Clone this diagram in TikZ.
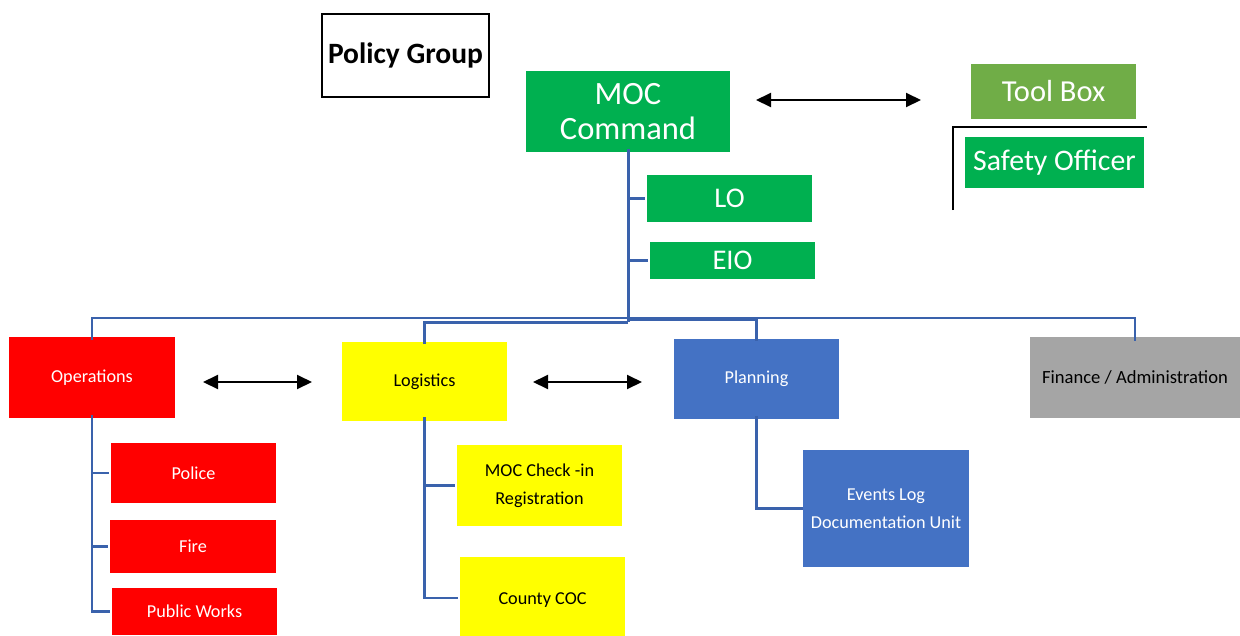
\documentclass[tikz,border=0pt]{standalone}
\usepackage{fontspec}
\setmainfont{Carlito}
\usetikzlibrary{arrows.meta}
\definecolor{cgreen}{HTML}{00B050}
\definecolor{ctool}{HTML}{70AD47}
\definecolor{cblue}{HTML}{4472C4}
\definecolor{cgray}{HTML}{A5A5A5}
\definecolor{cred}{HTML}{FF0000}
\definecolor{cyellow}{HTML}{FFFF00}
\definecolor{cline}{HTML}{3A62AC}
\tikzset{
  box/.style={inner sep=0pt, align=center, draw=none},
  greenbox/.style={box, fill=cgreen, text=white},
  redbox/.style={box, fill=cred, text=white, font=\fontsize{18.2}{28}\selectfont},
  yellowbox/.style={box, fill=cyellow, text=black, font=\fontsize{18.2}{28}\selectfont},
  bluebox/.style={box, fill=cblue, text=white, font=\fontsize{18.2}{28}\selectfont},
  graybox/.style={box, fill=cgray, text=black, font=\fontsize{18.6}{28}\selectfont},
  conn/.style={draw=cline, line width=3pt},
  thinconn/.style={draw=cline, line width=2.6pt},
  biarrow/.style={draw=black, line width=2pt, {Triangle[length=15pt,width=14pt]}-{Triangle[length=15pt,width=14pt]}},
}
\begin{document}
\begin{tikzpicture}[x=1pt,y=-1pt]
\useasboundingbox (0,0) rectangle (1240,635);

% top level
\node[box, draw=black, line width=2pt, minimum width=167, minimum height=83,
      font=\fontsize{29.5}{30}\selectfont\bfseries] (policy) at (405.5,55.5) {Policy Group};
\node[greenbox, minimum width=204, minimum height=81, font=\fontsize{32.5}{35}\selectfont] (moc) at (628,111.5) {MOC\\Command};
\node[box, fill=ctool, text=white, minimum width=165, minimum height=55, font=\fontsize{30.5}{30}\selectfont] (tool) at (1053.5,91.5) {Tool Box};
\node[greenbox, minimum width=179, minimum height=51, font=\fontsize{29.8}{30}\selectfont] (safety) at (1054.5,162.5) {Safety Officer};
\node[greenbox, minimum width=165, minimum height=47, font=\fontsize{28.5}{30}\selectfont] (lo) at (729.5,198.5) {LO};
\node[greenbox, minimum width=165, minimum height=37, font=\fontsize{28.5}{30}\selectfont] (eio) at (732.5,260.5) {EIO};

% bracket near safety officer
\coordinate (s1) at (953,210);
\coordinate (s2) at (953,127);
\coordinate (s3) at (1147,127);
\draw[black, line width=1.6pt] (s1) -- (s2) -- (s3);

% MOC <-> Tool Box arrow
\coordinate (m1) at (756,100);
\coordinate (m2) at (921,100);
\draw[biarrow] (m1) -- (m2);

% sections
\node[redbox, minimum width=166, minimum height=81] (ops) at (92,377.5) {Operations};
\node[yellowbox, minimum width=165, minimum height=79] (log) at (424.5,381.5) {Logistics};
\node[bluebox, minimum width=165, minimum height=80] (plan) at (756.5,379) {Planning};
\node[graybox, minimum width=210, minimum height=81] (fin) at (1135,377.5) {Finance / Administration};

\coordinate (o1) at (203,382);
\coordinate (o2) at (312,382);
\draw[biarrow] (o1) -- (o2);
\coordinate (l1) at (533,382);
\coordinate (l2) at (642,382);
\draw[biarrow] (l1) -- (l2);

% children
\node[redbox, minimum width=165, minimum height=60] (police) at (193.5,473) {Police};
\node[redbox, minimum width=166, minimum height=53] (fire) at (193,546.5) {Fire};
\node[redbox, minimum width=165, minimum height=47] (pw) at (194.5,611.5) {Public Works};
\node[yellowbox, minimum width=165, minimum height=81] (check) at (539.5,485.5) {MOC Check -in\\Registration};
\node[yellowbox, minimum width=165, minimum height=86] (county) at (542.5,600) {County COC};
\node[bluebox, minimum width=166, minimum height=117] (events) at (886,508.5) {Events Log\\Documentation Unit};

% tree connectors
\coordinate (busA) at (628,318);
\coordinate (busB) at (628,322);
\coordinate (busC) at (628,320);
\draw[conn] ([yshift=3]moc.south) -- (busB);
\draw[conn] (moc.south |- lo.west) -- ([xshift=-2]lo.west);
\draw[conn] (moc.south |- eio.west) -- ([xshift=-2]eio.west);
\draw[thinconn] (busA) -| ([yshift=-3]ops.north);
\draw[thinconn] (busA) -| ([yshift=-4]fin.north);
\draw[conn] (busB) -| ([yshift=-2]log.north);
\draw[thinconn] (busC) -| ([yshift=-2]plan.north);

\draw[thinconn] ([yshift=3]ops.south) |- ([xshift=-2]pw.west);
\draw[thinconn] (ops.south |- police.west) -- ([xshift=-2]police.west);
\draw[thinconn] (ops.south |- fire.west) -- ([xshift=-2]fire.west);

\draw[thinconn] ([yshift=4]log.south) |- ([xshift=-2]county.west |- 0,598);
\draw[thinconn] (log.south |- check.west) -- ([xshift=-2]check.west);

\draw[thinconn] ([yshift=3]plan.south) |- (events.west);
\end{tikzpicture}
\end{document}
